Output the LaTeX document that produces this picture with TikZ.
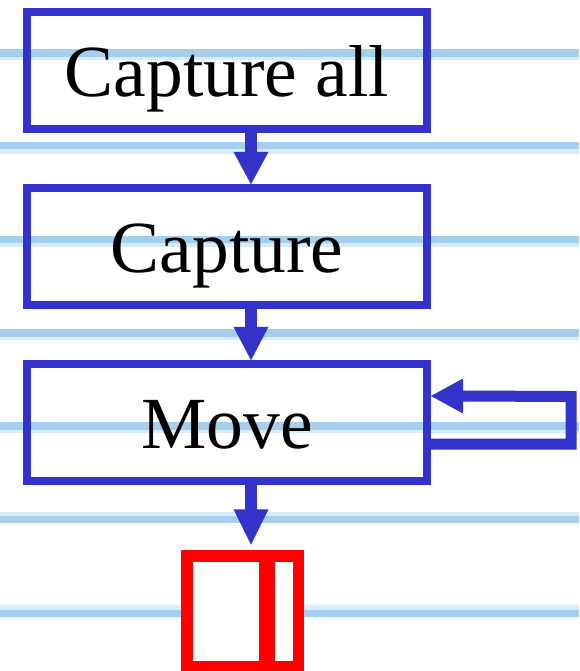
\documentclass[tikz,border=0pt]{standalone}
\usepackage{fontspec}
\setmainfont{Liberation Serif}
\definecolor{flowblue}{HTML}{3333CC}
\definecolor{rulemid}{HTML}{A6CFEE}
\definecolor{rulepale}{HTML}{D6ECFB}
\definecolor{stopred}{HTML}{FF0000}
\tikzset{
  stepbox/.style={draw=flowblue, line width=8pt, inner sep=0pt, outer sep=0pt,
    minimum width=400pt, minimum height=116.5pt,
    text height=52pt, text depth=0pt,
    font=\fontsize{73.5}{80}\selectfont},
  shaft/.style={draw=flowblue, line width=11.5pt},
  loopshaft/.style={draw=flowblue, line width=11pt, line join=miter},
  tiphead/.style={fill=flowblue},
  stopbox/.style={draw=stopred, fill=white, line width=11.5pt, inner sep=0pt,
    outer sep=0pt, minimum width=111.5pt, minimum height=111pt},
}
\begin{document}
\begin{tikzpicture}[x=1pt, y=-1pt]
  \useasboundingbox (0,0) rectangle (579,671);
  % ruled background lines: pale band with a deeper band over it
  \foreach \lt/\lb/\dt/\db in {49/60/49/57, 142/154/142/149.5, 236/246.7/236/242.7,
      329.3/340/329.3/336.7, 421.7/433.3/421.7/430, 511.7/523.3/515.7/523.3,
      605/616.7/610/616.7} {
    \fill[rulepale] (0,\lt) rectangle (579,\lb);
    \fill[rulemid] (0,\dt) rectangle (579,\db);
  }
  % steps
  \node[stepbox] (capall) at (227,70.5) {Capture all};
  \node[stepbox] (capture) at (227,246.5) {Capture};
  \node[stepbox] (move) at (227,422.5) {Move};
  % end marker
  \node[stopbox] (stop) at (242.75,611.5) {};
  \draw[stopred, line width=16pt] ([xshift=24.25pt,yshift=5.75pt]stop.north)
    -- ([xshift=24.25pt,yshift=-5.75pt]stop.south);
  % connectors: shaft down to the head, head tip on the next box
  \coordinate (t1) at ([xshift=24pt,yshift=4pt]capture.north);
  \draw[shaft] ([xshift=24pt]capall.south) -- ([yshift=31.5pt]t1);
  \fill[tiphead] (t1) -- ++(-17.5,-32.3) -- ++(35,0) -- cycle;
  \coordinate (t2) at ([xshift=24pt,yshift=4pt]move.north);
  \draw[shaft] ([xshift=24pt]capture.south) -- ([yshift=32.5pt]t2);
  \fill[tiphead] (t2) -- ++(-17.5,-33.4) -- ++(35,0) -- cycle;
  \coordinate (t3) at ([xshift=8.25pt,yshift=11.25pt]stop.north);
  \draw[shaft] ([xshift=24pt]move.south) -- ([yshift=34.5pt]t3);
  \fill[tiphead] (t3) -- ++(-17.5,-35.5) -- ++(35,0) -- cycle;
  % loop back into Move
  \coordinate (t4) at ([xshift=4pt,yshift=26.5pt]move.east);
  \draw[loopshaft] ([yshift=-21.5pt]move.east) -- ++(144,0) -- ++(0,-47.5)
    -- ([xshift=31pt]t4);
  \fill[tiphead] (t4) -- ++(32,-17.5) -- ++(0,35) -- cycle;
\end{tikzpicture}
\end{document}
